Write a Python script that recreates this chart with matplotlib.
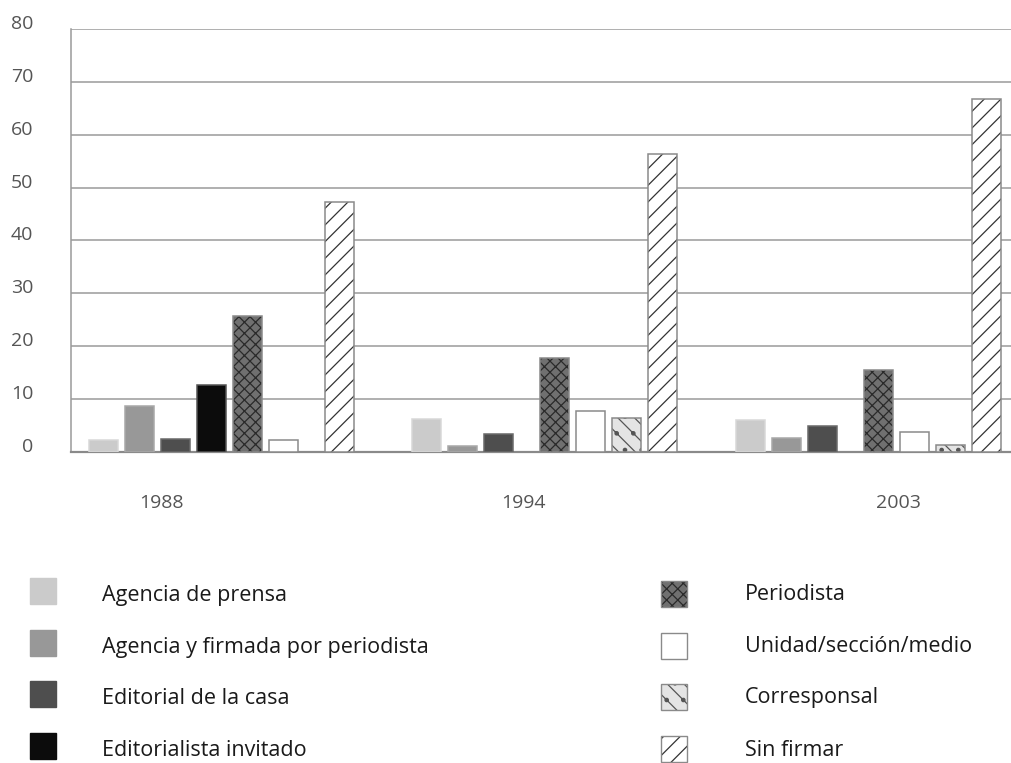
import matplotlib
matplotlib.use("Agg")
import matplotlib.pyplot as plt
from matplotlib.patches import Rectangle
from matplotlib.transforms import ScaledTranslation

plt.rcParams['font.family'] = ['Open Sans', 'DejaVu Sans']
plt.rcParams['hatch.linewidth'] = 0.9

years = ["1988", "1994", "2003"]
series = ["Agencia de prensa", "Agencia y firmada por periodista", "Editorial de la casa",
          "Editorialista invitado", "Periodista", "Unidad/sección/medio", "Corresponsal", "Sin firmar"]
agencia = [2.2, 6.2, 6.1]
firmada = [8.7, 1.1, 2.6]
editorial = [2.4, 3.4, 5.0]
editorialista = [12.7, 0, 0]
periodista = [25.7, 17.8, 15.6]
unidad = [2.3, 7.8, 3.8]
corresponsal = [0, 6.4, 1.4]
sin_firmar = [47.3, 56.4, 66.8]
values = [agencia, firmada, editorial, editorialista, periodista, unidad, corresponsal, sin_firmar]
yticks = [0, 10, 20, 30, 40, 50, 60, 70, 80]

# styles: (facecolor, hatch, hatchcolor, edgecolor)
styles = [
    ("#cbcbcb", None, None, "#d8d8d8"),
    ("#989898", None, None, "#a8a8a8"),
    ("#4e4e4e", None, None, "#6a6a6a"),
    ("#0c0c0c", None, None, "#555555"),
    ("#707070", "xxx", "#2a2a2a", "#8a8a8a"),
    ("#ffffff", None, None, "#8a8a8a"),
    ("#e4e4e4", "\\\\.", "#555555", "#8a8a8a"),
    ("#ffffff", "//", "#333333", "#8a8a8a"),
]

W, H = 1012, 763
fig = plt.figure(figsize=(W / 100, H / 100), dpi=100)
ax = fig.add_axes([71 / W, 1 - 452 / H, (W - 71) / W, (452 - 29) / H])

# layout in pixel-like axis units
group_start = [18, 341, 665]
step = 36
gap_missing = 20
bar_w = 29
year_label_x = [90, 452, 827]

for g in range(len(years)):
    x = group_start[g]
    for s in range(len(series)):
        v = values[s][g]
        if v <= 0:
            x += gap_missing
            continue
        fc, hatch, hc, ec = styles[s]
        if hatch:
            ax.bar(x, v, width=bar_w, align='edge', color=fc, hatch=hatch,
                   edgecolor=hc, linewidth=0, zorder=3)
            ax.bar(x, v, width=bar_w, align='edge', fill=False, edgecolor=ec,
                   linewidth=1.1, zorder=4)
        else:
            ax.bar(x, v, width=bar_w, align='edge', color=fc, edgecolor=ec,
                   linewidth=1.1, zorder=3)
        x += step

ax.set_xlim(0, W - 71)
ax.set_ylim(0, 80)
ax.set_yticks(yticks)
ax.set_yticklabels([str(t) for t in yticks])
ax.yaxis.grid(True, color="#9a9a9a", linewidth=1.1, zorder=0)
ax.set_axisbelow(True)
ax.tick_params(axis='y', length=0, pad=27, labelsize=14, labelcolor="#555555")
for lab in ax.get_yticklabels():
    lab.set_transform(lab.get_transform() + ScaledTranslation(0, 7 / 100, fig.dpi_scale_trans))
ax.set_xticks(year_label_x)
ax.set_xticklabels(years)
ax.tick_params(axis='x', length=0, pad=30, labelsize=14, labelcolor="#555555")

for sp in ["top", "right"]:
    ax.spines[sp].set_visible(False)
ax.spines["left"].set_color("#9a9a9a")
ax.spines["left"].set_linewidth(1.1)
ax.spines["bottom"].set_color("#8a8a8a")
ax.spines["bottom"].set_linewidth(1.6)

# legend drawn in pixel coordinates
lax = fig.add_axes([0, 0, 1, 1])
lax.set_xlim(0, W)
lax.set_ylim(H, 0)
lax.axis("off")
row_y = [591, 643, 694, 746]
cols = [(30, 102), (661, 745)]
for i, name in enumerate(series):
    c = i // 4
    r = i % 4
    sx, tx = cols[c]
    yc = row_y[r] + (3 if c == 1 else 0)
    fc, hatch, hc, ec = styles[i]
    if hatch:
        lax.add_patch(Rectangle((sx, yc - 13), 26, 26, facecolor=fc, hatch=hatch,
                                edgecolor=hc, linewidth=0))
        lax.add_patch(Rectangle((sx, yc - 13), 26, 26, fill=False, edgecolor=ec, linewidth=1.0))
    else:
        lax.add_patch(Rectangle((sx, yc - 13), 26, 26, facecolor=fc, edgecolor=ec if fc == "#ffffff" else fc,
                                linewidth=1.0))
    lax.text(tx, row_y[r] + 4, name, fontsize=15.5, color="#1a1a1a", va="center", ha="left")

fig.savefig("out.png", dpi=100)
